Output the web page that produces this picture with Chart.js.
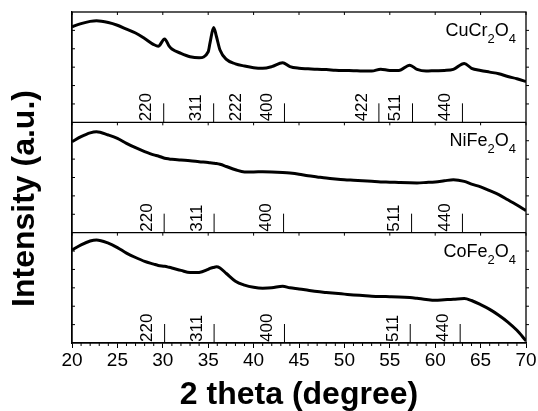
<!DOCTYPE html>
<html>
<head>
<meta charset="utf-8">
<script src="https://cdn.jsdelivr.net/npm/chart.js@4"></script>
<style>
  html, body { margin: 0; padding: 0; background: #fff; }
  canvas { display: block; }
</style>
</head>
<body>
<canvas id="xrd" width="538" height="411"></canvas>
<script>
// 2 theta positions the curves were read at
const twoTheta = [20, 21, 22, 22.7, 24, 25, 26, 27, 28, 29, 29.5, 30.2, 30.7, 31, 32, 33, 34, 35, 35.2, 35.6, 35.9, 36.3, 37, 38, 39, 40, 41, 42, 43.2, 44, 45, 46, 47, 48, 49, 50, 51, 52, 53, 54, 55, 56, 57.2, 58, 59, 60, 61, 62, 63.2, 64, 65, 66, 67, 68, 69, 70];

// relative intensity inside each panel (0 = panel bottom, 100 = panel top)
const cuCr2O4 = [86.6, 89.5, 91.5, 92.1, 90.5, 88, 84.5, 81, 76, 70.5, 69, 75.5, 69, 66.5, 62.5, 59.5, 58.5, 64, 72, 86, 78, 65.5, 57, 53, 51, 49.5, 49, 50.5, 54, 50.5, 49, 48.5, 48, 47.8, 47.3, 47, 46.8, 46.5, 46.5, 48.2, 47, 47, 51.8, 48, 46.5, 46.8, 47, 48, 53.4, 49, 47, 45.5, 44, 41.5, 39.5, 37];
const niFe2O4 = [82.4, 87, 90.5, 91.5, 88.5, 85.5, 81, 77, 73.5, 70.5, 69.5, 67.5, 66.8, 66.5, 65.8, 65.2, 64.3, 63.5, 63.3, 63, 62.7, 62, 60, 57, 55, 55, 55.2, 55, 54.5, 54, 53, 51.5, 50.5, 49.5, 48.7, 48, 47.5, 47, 46.5, 46, 45.8, 45.5, 45.2, 45.1, 45.5, 46, 47, 48, 46.5, 44, 41.5, 38, 34.5, 29.8, 25, 20];
const coFe2O4 = [84.3, 89, 92.5, 93.4, 90.5, 86.5, 81.5, 77.5, 74, 71.5, 70.3, 69.5, 68.6, 68, 65.8, 63.8, 64, 66.8, 67.6, 68.5, 69, 68, 63, 56, 52.5, 50.5, 49.7, 50, 51.5, 50, 49, 47.8, 46.6, 45.8, 45, 44.3, 43.6, 43, 42.4, 42.1, 42, 41.8, 41.2, 40.5, 39.5, 38.8, 39.2, 39.6, 40.3, 38.5, 34.8, 30.5, 25.2, 19, 11.5, 2];

const sampleNames = ['CuCr2O4', 'NiFe2O4', 'CoFe2O4'];

// reflection markers (hkl and 2 theta), '222' in the top panel has no stick
const cuCrHkl = ['220', '311', '222', '400', '422', '511', '440'];
const cuCrPos = [30.1, 35.6, 40.0, 43.4, 53.8, 57.5, 63.0];
const niFeHkl = ['220', '311', '400', '511', '440'];
const niFePos = [30.15, 35.65, 43.3, 57.4, 63.0];
const coFeHkl = ['220', '311', '400', '511', '440'];
const coFePos = [30.2, 35.65, 43.4, 57.25, 62.75];
const noStick = ['222'];

const xTicks = [20, 25, 30, 35, 40, 45, 50, 55, 60, 65, 70];

const FONT = "'Liberation Sans', Arial, sans-serif";

const panels = [
    { name: sampleNames[0], values: cuCr2O4, hkl: cuCrHkl, pos: cuCrPos, base: 200 },
    { name: sampleNames[1], values: niFe2O4, hkl: niFeHkl, pos: niFePos, base: 100 },
    { name: sampleNames[2], values: coFe2O4, hkl: coFeHkl, pos: coFePos, base: 0 }
];

function drawFormula(ctx, text, right, baseline) {
    const parts = text.match(/[A-Za-z]+|\d+/g);
    const big = '18px ' + FONT;
    const small = '13px ' + FONT;
    let w = 0;
    parts.forEach(p => {
        ctx.font = /\d/.test(p) ? small : big;
        w += ctx.measureText(p).width;
    });
    let cx = right - w;
    ctx.textAlign = 'left';
    ctx.textBaseline = 'alphabetic';
    parts.forEach(p => {
        const sub = /\d/.test(p);
        ctx.font = sub ? small : big;
        ctx.fillText(p, cx, sub ? baseline + 7 : baseline);
        cx += ctx.measureText(p).width;
    });
}

const framePlugin = {
    id: 'frame',
    afterDraw(chart) {
        const { ctx, chartArea: a, scales: { x, y } } = chart;
        ctx.save();
        ctx.strokeStyle = '#000';
        ctx.fillStyle = '#000';

        ctx.lineWidth = 1.3;
        ctx.strokeRect(a.left, a.top, a.right - a.left, a.bottom - a.top);

        ctx.lineWidth = 1;
        ctx.beginPath();
        // minor ticks under the bottom axis
        for (let d = xTicks[0] + 1; d < xTicks[xTicks.length - 1]; d++) {
            if (d % 5 === 0) continue;
            const px = x.getPixelForValue(d);
            ctx.moveTo(px, a.bottom);
            ctx.lineTo(px, a.bottom + 3);
        }
        panels.forEach(p => {
            const top = y.getPixelForValue(p.base + 100);
            // small ticks hanging from the top of each panel
            xTicks.forEach(v => {
                const px = x.getPixelForValue(v);
                ctx.moveTo(px, top);
                ctx.lineTo(px, top + 3);
            });
            // side ticks
            for (let k = 1; k < 6; k++) {
                const py = y.getPixelForValue(p.base + k * 100 / 6);
                ctx.moveTo(a.left, py);
                ctx.lineTo(a.left + 3, py);
                ctx.moveTo(a.right, py);
                ctx.lineTo(a.right + 3, py);
            }
        });
        ctx.stroke();

        // panel dividers
        ctx.lineWidth = 1.3;
        ctx.beginPath();
        [100, 200].forEach(v => {
            const py = y.getPixelForValue(v);
            ctx.moveTo(a.left, py);
            ctx.lineTo(a.right, py);
        });
        ctx.stroke();

        // reflection sticks and hkl labels
        ctx.lineWidth = 1;
        panels.forEach(p => {
            const bottom = y.getPixelForValue(p.base);
            p.hkl.forEach((h, i) => {
                const px = x.getPixelForValue(p.pos[i]);
                if (!noStick.includes(h)) {
                    ctx.beginPath();
                    ctx.moveTo(px, bottom);
                    ctx.lineTo(px, bottom - 19);
                    ctx.stroke();
                }
                ctx.save();
                ctx.translate(px - 17, bottom - 1);
                ctx.rotate(-Math.PI / 2);
                ctx.font = '17px ' + FONT;
                ctx.textAlign = 'left';
                ctx.textBaseline = 'middle';
                ctx.fillText(h, 0, 0);
                ctx.restore();
            });
            const top = y.getPixelForValue(p.base + 100);
            drawFormula(ctx, p.name, a.right - 10, top + 24);
        });

        // y axis title
        ctx.save();
        ctx.translate(25, (a.top + a.bottom) / 2 + 21);
        ctx.rotate(-Math.PI / 2);
        ctx.font = 'bold 32px ' + FONT;
        ctx.textAlign = 'center';
        ctx.textBaseline = 'middle';
        ctx.fillText('Intensity (a.u.)', 0, 0);
        ctx.restore();

        ctx.restore();
    }
};

const datasets = panels.map(p => ({
    label: p.name,
    data: twoTheta.map((t, i) => ({ x: t, y: p.base + p.values[i] })),
    borderColor: '#000',
    borderWidth: 3,
    pointRadius: 0,
    fill: false,
    cubicInterpolationMode: 'monotone'
}));

new Chart(document.getElementById('xrd').getContext('2d'), {
    type: 'line',
    data: { datasets: datasets },
    options: {
        responsive: false,
        animation: false,
        layout: { padding: { top: 12, right: 12, left: 0, bottom: 0 } },
        plugins: { legend: { display: false }, tooltip: { enabled: false } },
        scales: {
            x: {
                type: 'linear',
                min: 20,
                max: 70,
                afterBuildTicks(s) { s.ticks = xTicks.map(v => ({ value: v })); },
                afterFit(s) { s.height = 68; },
                ticks: { color: '#000', font: { family: FONT, size: 19 }, padding: 1, maxRotation: 0, autoSkip: false },
                grid: { drawOnChartArea: false, tickLength: 5, color: '#000', lineWidth: 1 },
                border: { color: '#000', width: 1.3 },
                title: {
                    display: true,
                    text: '2 theta (degree)',
                    color: '#000',
                    font: { family: FONT, size: 32, weight: 'bold', lineHeight: 1 },
                    padding: { top: 0, bottom: 0 }
                }
            },
            y: {
                min: 0,
                max: 300,
                afterFit(s) { s.width = 72; },
                ticks: { display: false },
                grid: { display: false },
                border: { color: '#000', width: 1.3 }
            }
        }
    },
    plugins: [framePlugin]
});
</script>
</body>
</html>
